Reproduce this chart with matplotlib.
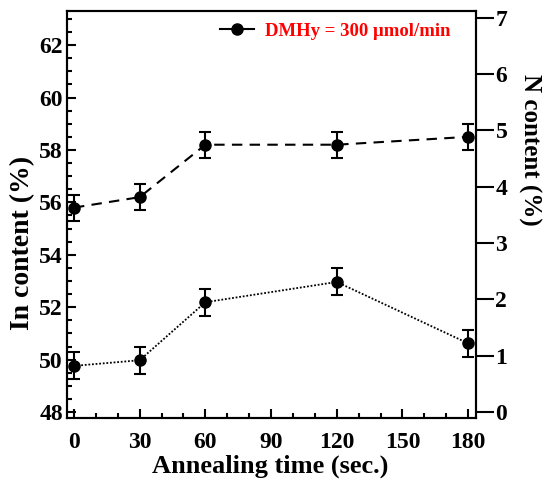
import matplotlib
matplotlib.use("Agg")
import matplotlib.pyplot as plt
from matplotlib.lines import Line2D
from matplotlib.ticker import MultipleLocator

# ============= DATA =============
time_sec = [0, 30, 60, 120, 180]
in_content = [55.8, 56.2, 58.2, 58.2, 58.5]
in_err = [0.5, 0.5, 0.5, 0.5, 0.5]
n_content = [0.82, 0.92, 1.95, 2.31, 1.22]
n_err = [0.24, 0.24, 0.24, 0.24, 0.24]

legend_label = "DMHy = 300 \u03bcmol/min"

plt.rcParams['font.family'] = ['Liberation Serif', 'DejaVu Serif']
plt.rcParams['font.weight'] = 'bold'

fig = plt.figure(figsize=(5.43, 4.8), dpi=100)
ax = fig.add_axes([0.1234, 0.129, 0.7532, 0.848])
ax2 = ax.twinx()

# In content (left axis, dashed)
ax.errorbar(time_sec, in_content, yerr=in_err, fmt='o', color='black',
            markersize=8, elinewidth=1.5, capsize=4, capthick=1.5, zorder=5)
ax.plot(time_sec, in_content, color='black', linestyle=(0, (5, 3.5)),
        linewidth=1.5, zorder=4)

# N content (right axis, dotted)
ax2.errorbar(time_sec, n_content, yerr=n_err, fmt='o', color='black',
             markersize=8, elinewidth=1.5, capsize=4, capthick=1.5, zorder=5)
ax2.plot(time_sec, n_content, color='black', linestyle=(0, (1, 1)),
         linewidth=1.3, zorder=4)

ax.set_xlim(-3.2, 183.6)
ax.set_ylim(47.77, 63.3)
ax2.set_ylim(-0.107, 7.12)

ax.xaxis.set_major_locator(MultipleLocator(30))
ax.xaxis.set_minor_locator(MultipleLocator(10))
ax.yaxis.set_major_locator(MultipleLocator(2))
ax.yaxis.set_minor_locator(MultipleLocator(0.5))
ax2.yaxis.set_major_locator(MultipleLocator(1))

for a in (ax, ax2):
    for sp in a.spines.values():
        sp.set_linewidth(1.5)

ax.tick_params(axis='both', which='major', direction='in', length=6.5,
               width=1.5, labelsize=17, top=False, right=False)
ax.tick_params(axis='both', which='minor', direction='in', length=3.6,
               width=1.5, top=False, right=False)
ax.tick_params(axis='x', which='major', pad=10)
ax.tick_params(axis='y', which='major', pad=3)
ax2.tick_params(axis='y', which='major', direction='out', length=13,
                width=1.5, labelsize=17, pad=1)
ax2.tick_params(axis='y', which='minor', right=False)

for lab in ax.get_xticklabels() + ax.get_yticklabels() + ax2.get_yticklabels():
    lab.set_fontweight('bold')

ax.set_xlabel("Annealing time (sec.)", fontsize=19, fontweight='bold',
              va='center')
ax.set_ylabel("In content (%)", fontsize=20, fontweight='bold',
              va='center')
ax2.set_ylabel("N content (%)", fontsize=18, fontweight='bold',
               rotation=-90, va='center')
ax.xaxis.set_label_coords(0.496, -0.118)
ax.yaxis.set_label_coords(-0.108, 0.43)
ax2.yaxis.set_label_coords(1.13, 0.66)

handle = Line2D([], [], color='black', linestyle='-', linewidth=1.5,
                marker='o', markersize=8)
leg = ax.legend([handle], [legend_label], loc='upper left',
                bbox_to_anchor=(0.374, 0.972), frameon=False, borderpad=0,
                borderaxespad=0, handlelength=1.8, handletextpad=0.6,
                prop={'size': 13.5, 'weight': 'bold'})
for t in leg.get_texts():
    t.set_color('red')

fig.savefig("out.png", dpi=100)
